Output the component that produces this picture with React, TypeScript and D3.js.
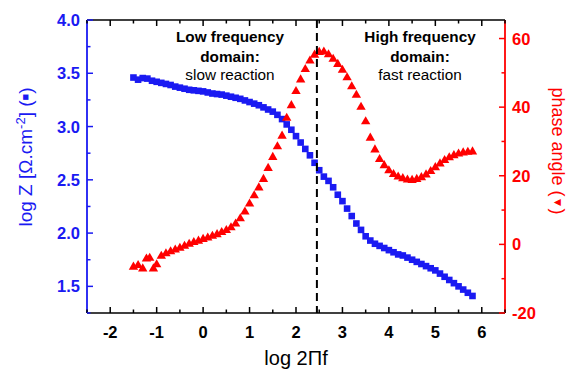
import React from "react";
import * as d3 from "d3";

const zX: number[] = [-1.5,-1.4,-1.3,-1.2,-1.1,-1.0,-0.9,-0.8,-0.7,-0.6,-0.5,-0.4,-0.3,-0.2,-0.1,0.0,0.1,0.2,0.3,0.4,0.5,0.6,0.7,0.8,0.9,1.0,1.1,1.2,1.3,1.4,1.5,1.6,1.7,1.8,1.9,2.0,2.1,2.2,2.3,2.4,2.5,2.6,2.7,2.8,2.9,3.0,3.1,3.2,3.3,3.4,3.5,3.6,3.7,3.8,3.9,4.0,4.1,4.2,4.3,4.4,4.5,4.6,4.7,4.8,4.9,5.0,5.1,5.2,5.3,5.4,5.5,5.6,5.7,5.8];
const logZ: number[] = [3.46,3.44,3.455,3.45,3.43,3.42,3.41,3.40,3.39,3.375,3.365,3.355,3.345,3.34,3.335,3.33,3.32,3.31,3.305,3.30,3.29,3.28,3.27,3.26,3.245,3.23,3.215,3.20,3.18,3.16,3.14,3.11,3.07,3.02,2.97,2.91,2.85,2.79,2.73,2.66,2.59,2.53,2.49,2.43,2.36,2.30,2.23,2.16,2.09,2.03,1.97,1.93,1.90,1.88,1.86,1.84,1.82,1.80,1.79,1.77,1.75,1.73,1.71,1.69,1.67,1.65,1.62,1.59,1.56,1.53,1.50,1.47,1.44,1.41];

const phX: number[] = [-1.5,-1.4,-1.3,-1.22,-1.15,-1.07,-1.0,-0.9,-0.8,-0.7,-0.6,-0.5,-0.4,-0.3,-0.2,-0.1,0.0,0.1,0.2,0.3,0.4,0.5,0.6,0.7,0.8,0.9,1.0,1.1,1.2,1.3,1.4,1.5,1.6,1.7,1.8,1.9,2.0,2.1,2.2,2.3,2.4,2.5,2.6,2.7,2.8,2.9,3.0,3.1,3.2,3.3,3.4,3.5,3.6,3.7,3.8,3.9,4.0,4.1,4.2,4.3,4.4,4.5,4.6,4.7,4.8,4.9,5.0,5.1,5.2,5.3,5.4,5.5,5.6,5.7,5.8];
const phase: number[] = [-6.6,-6.1,-7.1,-4.2,-4.0,-7.1,-5.9,-3.4,-2.7,-2.1,-1.6,-1.1,-0.5,0.1,0.6,1.0,1.5,1.9,2.4,2.9,3.5,4.1,4.9,6.0,7.5,9.5,11.8,14.2,16.5,19.0,22.2,25.4,28.5,31.6,36.8,40.5,44.6,48.0,51.0,53.5,55.2,56.0,56.1,55.3,54.0,52.5,50.8,48.6,46.0,43.5,40.0,35.8,31.0,27.6,24.8,23.0,21.5,20.4,19.7,19.2,18.8,18.7,19.0,19.5,20.3,21.3,22.4,23.5,24.5,25.3,25.9,26.4,26.7,26.9,27.0];

const xTicks: number[] = [-2,-1,0,1,2,3,4,5,6];
const zTicks: number[] = [1.5,2.0,2.5,3.0,3.5,4.0];
const phTicks: number[] = [-20,0,20,40,60];
const boundaryX = 2.45;

const BLUE = "#1a1af2";
const RED = "#ff0000";
const FONT = "'Liberation Sans', Arial, sans-serif";

export default function App() {
  const W = 571, H = 372;
  const L = 87, R = 505, T = 20, B = 313;
  const x = d3.scaleLinear().domain([-2.5, 6.5]).range([L, R]);
  const yZ = d3.scaleLinear().domain([1.25, 4.0]).range([B, T]);
  const yP = d3.scaleLinear().domain([-20, 65.4]).range([B, T]);

  const xMinor = d3.range(-2.5, 6.51, 0.5).filter((v) => !xTicks.includes(v));
  const zMinor = d3.range(1.25, 4.0, 0.25).filter((v) => Math.abs(v * 2 - Math.round(v * 2)) > 0.01);
  const pMinor = [-10, 10, 30, 50];

  const tri = d3.symbol().type(d3.symbolTriangle).size(38);
  const triPath = (tri() as string);
  const S = 6.6;

  return (
    <svg width={W} height={H} style={{ position: "absolute", left: 0, top: 0, background: "#fff" }} fontFamily={FONT}>
      {/* data */}
      {zX.map((v, i) => (
        <rect key={"z" + i} x={x(v) - S / 2} y={yZ(logZ[i]) - S / 2} width={S} height={S} fill={BLUE} />
      ))}
      {phX.map((v, i) => (
        <path key={"p" + i} d={triPath} transform={`translate(${x(v)},${yP(phase[i])})`} fill={RED} />
      ))}

      {/* dashed boundary */}
      <line x1={x(boundaryX)} x2={x(boundaryX)} y1={T} y2={B} stroke="#000" strokeWidth={2} strokeDasharray="8,5" />

      {/* frame */}
      <line x1={L} x2={R} y1={T} y2={T} stroke="#000" strokeWidth={1.6} />
      <line x1={L} x2={R} y1={B} y2={B} stroke="#000" strokeWidth={1.6} />
      <line x1={L} x2={L} y1={T} y2={B} stroke={BLUE} strokeWidth={1.8} />
      <line x1={R} x2={R} y1={T} y2={B} stroke={RED} strokeWidth={1.8} />

      {/* x ticks */}
      {xTicks.map((v) => (
        <g key={"xt" + v}>
          <line x1={x(v)} x2={x(v)} y1={B} y2={B - 6} stroke="#000" strokeWidth={1.5} />
          <line x1={x(v)} x2={x(v)} y1={T} y2={T + 6} stroke="#000" strokeWidth={1.5} />
          <text x={x(v)} y={338} textAnchor="middle" fontSize={16.5} fontWeight="bold" fill="#000">{v}</text>
        </g>
      ))}
      {xMinor.map((v) => (
        <g key={"xm" + v}>
          <line x1={x(v)} x2={x(v)} y1={B} y2={B - 3.5} stroke="#000" strokeWidth={1.5} />
          <line x1={x(v)} x2={x(v)} y1={T} y2={T + 3.5} stroke="#000" strokeWidth={1.5} />
        </g>
      ))}

      {/* left axis */}
      {zTicks.map((v) => (
        <g key={"zt" + v}>
          <line x1={L} x2={L + 6} y1={yZ(v)} y2={yZ(v)} stroke={BLUE} strokeWidth={1.5} />
          <text x={80} y={yZ(v) + 6} textAnchor="end" fontSize={16.5} fontWeight="bold" fill={BLUE}>{v.toFixed(1)}</text>
        </g>
      ))}
      {zMinor.map((v) => (
        <line key={"zm" + v} x1={L} x2={L + 3.5} y1={yZ(v)} y2={yZ(v)} stroke={BLUE} strokeWidth={1.5} />
      ))}

      {/* right axis */}
      {phTicks.map((v) => (
        <g key={"pt" + v}>
          <line x1={R} x2={R - 6} y1={yP(v)} y2={yP(v)} stroke={RED} strokeWidth={1.5} />
          <text x={512} y={yP(v) + 6} textAnchor="start" fontSize={16.5} fontWeight="bold" fill={RED}>{v}</text>
        </g>
      ))}
      {pMinor.map((v) => (
        <line key={"pm" + v} x1={R} x2={R - 3.5} y1={yP(v)} y2={yP(v)} stroke={RED} strokeWidth={1.5} />
      ))}

      {/* axis titles */}
      <text x={296} y={365} textAnchor="middle" fontSize={20} fill="#000">log 2Πf</text>
      <text transform="translate(32,157) rotate(-90)" textAnchor="middle" fontSize={19} fill={BLUE}>
        log Z [Ω.cm<tspan dy={-7} fontSize={13}>-2</tspan><tspan dy={7}>] (</tspan><tspan fontSize={11} dy={-3}>■</tspan><tspan dy={3}>)</tspan>
      </text>
      <text transform="translate(552,151) rotate(90)" textAnchor="middle" fontSize={18} fill={RED}>
        phase angle (<tspan fontSize={12} dy={-2}>▼</tspan><tspan dy={2}>)</tspan>
      </text>

      {/* annotations */}
      <text x={230} y={42} textAnchor="middle" fontSize={15.3} fontWeight="bold" fill="#000">Low frequency</text>
      <text x={230} y={62} textAnchor="middle" fontSize={15.3} fontWeight="bold" fill="#000">domain:</text>
      <text x={230} y={80} textAnchor="middle" fontSize={15.3} fill="#000">slow reaction</text>
      <text x={420} y={42} textAnchor="middle" fontSize={15.3} fontWeight="bold" fill="#000">High frequency</text>
      <text x={420} y={62} textAnchor="middle" fontSize={15.3} fontWeight="bold" fill="#000">domain:</text>
      <text x={420} y={80} textAnchor="middle" fontSize={15.3} fill="#000">fast reaction</text>
    </svg>
  );
}
